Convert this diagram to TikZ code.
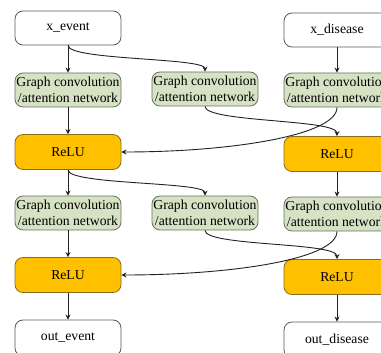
\documentclass[tikz,border=0pt]{standalone}
\usepackage{fontspec}
\setmainfont{Liberation Serif}
\usetikzlibrary{arrows.meta}
\definecolor{gfill}{HTML}{D5E2C3}
\definecolor{gdraw}{HTML}{66735F}
\definecolor{ofill}{HTML}{FFC000}
\definecolor{odraw}{HTML}{8C6D1F}
\definecolor{wdraw}{HTML}{5A5A5A}
\definecolor{ln}{HTML}{222222}
\tikzset{
  basebox/.style={rounded corners=8pt, minimum width=106pt, minimum height=34pt, inner sep=1pt, align=center, line width=0.8pt, font=\fontsize{13.7}{16}\selectfont},
  iobox/.style={basebox, draw=wdraw, fill=white},
  gbox/.style={basebox, draw=gdraw, fill=gfill},
  rbox/.style={basebox, draw=odraw, fill=ofill, minimum height=35pt},
  conn/.style={draw=ln, line width=0.9pt, -{Stealth[length=5pt,width=5pt]}}
}
\begin{document}
\begin{tikzpicture}[x=1pt,y=-1pt]
\useasboundingbox (0,0) rectangle (381,353);
\clip (0,0) rectangle (381,353);
\fill[white] (0,0) rectangle (381,353);
% nodes
\node[iobox] (xe) at (68,28) {x\_event};
\node[iobox] (xd) at (337,30) {x\_disease};
\node[gbox] (g11) at (68,90) {Graph convolution\\/attention network};
\node[gbox] (g12) at (205,89) {Graph convolution\\/attention network};
\node[gbox] (g13) at (337,90) {Graph convolution\\/attention network};
\node[rbox] (r11) at (68,152) {ReLU};
\node[rbox] (r13) at (337,154) {ReLU};
\node[gbox] (g21) at (68,213) {Graph convolution\\/attention network};
\node[gbox] (g22) at (205,213) {Graph convolution\\/attention network};
\node[gbox] (g23) at (337,214) {Graph convolution\\/attention network};
\node[rbox] (r21) at (68,275) {ReLU};
\node[rbox] (r23) at (337,277) {ReLU};
\node[iobox, minimum height=36pt] (oe) at (68,338) {out\_event};
\node[iobox, minimum height=36pt] (od) at (337,340) {out\_disease};
% straight connectors
\draw[conn] (xe) -- (g11);
\draw[conn] (xd) -- (g13);
\draw[conn] (g11) -- (r11);
\draw[conn] (r11) -- (g21);
\draw[conn] (r13) -- (g23);
\draw[conn] (g21) -- (r21);
\draw[conn] (r21) -- (oe);
\draw[conn] (r23) -- (od);
% curved connectors, layer 1
\draw[conn] (xe.south) .. controls +(0,15) and +(0,-14) .. (g12.north);
\draw[conn] (g12.south) .. controls +(0,16) and +(0,-17) .. (r13.north);
\draw[conn] (g13.south) .. controls +(0,28) and +(109,0) .. (r11.east);
% curved connectors, layer 2
\draw[conn] (r11.south) .. controls +(0,15) and +(0,-14) .. (g22.north);
\draw[conn] (g22.south) .. controls +(0,16) and +(0,-17) .. (r23.north);
\draw[conn] (g23.south) .. controls +(0,28) and +(109,0) .. (r21.east);
\end{tikzpicture}
\end{document}
